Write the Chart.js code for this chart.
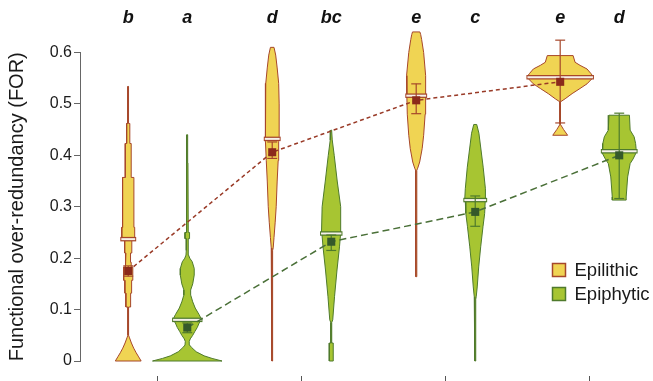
<!DOCTYPE html>
<html><head><meta charset="utf-8">
<script src="https://cdn.jsdelivr.net/npm/chart.js@4/dist/chart.umd.min.js"></script>
<style>html,body{margin:0;padding:0;background:#fff}</style>
</head><body>
<canvas id="c" width="653" height="381"></canvas>
<script>
// ---------- data ----------
const groupPos = [1, 2, 3, 4];
const seriesNames = ['Epilithic', 'Epiphytic'];
const letters = ['b', 'a', 'd', 'bc', 'e', 'c', 'e', 'd'];
const yTickValues = [0, 0.1, 0.2, 0.3, 0.4, 0.5, 0.6];

const epilithicMean = [0.175, 0.406, 0.507, 0.543];
const epilithicLow = [0.165, 0.394, 0.481, 0.463];
const epilithicHigh = [0.185, 0.426, 0.539, 0.624];
const epilithicMedian = [0.237, 0.432, 0.516, 0.552];

const epiphyticMean = [0.065, 0.232, 0.290, 0.400];
const epiphyticLow = [0.055, 0.215, 0.262, 0.316];
const epiphyticHigh = [0.074, 0.245, 0.321, 0.482];
const epiphyticMedian = [0.080, 0.248, 0.313, 0.408];

// violin density profiles: [FOR value, half-width density]
const epilithicViolin1 = [[0,13],[0.008,10.5],[0.016,8],[0.025,5.5],[0.035,3.2],[0.045,1.3],[0.05,0.35],[0.105,0.35],[0.105,2.4],[0.132,2.4],[0.132,3.4],[0.157,3.4],[0.157,4.6],[0.183,4.6],[0.183,3],[0.192,3],[0.192,2.3],[0.21,2.3],[0.21,3.6],[0.236,3.6],[0.239,6.5],[0.26,6.5],[0.26,5.7],[0.357,5.7],[0.357,3],[0.423,3],[0.423,1.6],[0.462,1.6],[0.462,0.5],[0.534,0.3]];
const epilithicViolin2 = [[0,0.4],[0.215,0.4],[0.22,1],[0.24,1.8],[0.27,3],[0.30,4],[0.35,5],[0.39,6],[0.427,6.5],[0.437,7],[0.5,7],[0.54,6.5],[0.57,5],[0.595,3.5],[0.61,1.8]];
const epilithicViolin3 = [[0.164,0.4],[0.371,0.6],[0.375,1.5],[0.387,3.5],[0.413,6],[0.439,7.5],[0.48,9],[0.513,9.3],[0.519,9.5],[0.555,9.7],[0.6,7.5],[0.625,5.5],[0.635,4.5],[0.64,3.7]];
const epilithicViolin4 = [[0.439,7.5],[0.45,3.5],[0.46,0.3],[0.504,0.3],[0.51,5],[0.52,12],[0.53,20],[0.539,27],[0.549,32],[0.555,32.5],[0.559,31],[0.568,27],[0.575,20],[0.581,15],[0.594,13]];

const epiphyticViolin1 = [[0,35],[0.005,25],[0.01,17],[0.018,9],[0.026,4.5],[0.031,2.3],[0.038,2],[0.043,3],[0.05,5.5],[0.057,7.5],[0.065,10],[0.074,12],[0.079,13.8],[0.083,13.8],[0.09,12],[0.103,8],[0.115,5.5],[0.128,3.5],[0.138,3.4],[0.15,5.5],[0.167,7],[0.18,7],[0.193,5],[0.2,2.5],[0.206,1.3],[0.215,1],[0.238,1],[0.238,2.3],[0.25,2.3],[0.25,1],[0.385,0.7],[0.385,0.45],[0.44,0.35]];
const epiphyticViolin2 = [[0,2],[0.035,2],[0.035,0.4],[0.075,0.5],[0.08,1.5],[0.125,3.3],[0.177,5.8],[0.222,8.3],[0.245,9.3],[0.251,9.8],[0.3,9.2],[0.35,6],[0.4,3],[0.43,1],[0.449,0.4]];
const epiphyticViolin3 = [[0,0.4],[0.12,0.5],[0.125,1],[0.144,2],[0.183,3.5],[0.222,5.5],[0.261,7.8],[0.287,9.5],[0.309,10],[0.317,10.5],[0.335,10],[0.377,8],[0.443,3.7],[0.46,1.5]];
const epiphyticViolin4 = [[0.313,7],[0.319,7],[0.358,8.5],[0.384,11],[0.393,14],[0.403,16.5],[0.413,17],[0.423,16.5],[0.436,15],[0.449,11],[0.478,10.3]];

const epilithicViolins = [epilithicViolin1, epilithicViolin2, epilithicViolin3, epilithicViolin4];
const epiphyticViolins = [epiphyticViolin1, epiphyticViolin2, epiphyticViolin3, epiphyticViolin4];

// ---------- style ----------
const X_MIN = 0.46, X_MAX = 4.4;
const DODGE = 0.205;          // side offset of the two series inside a group
const PX = 1 / 145;           // density unit -> x-axis units
const CAP = 5 * PX;
const FONT = "'Liberation Sans', Arial, Helvetica, sans-serif";
const styles = {
  Epilithic: { fill: '#F0D453', border: '#A6472B', mark: '#8B2A1B', dash: '#993A27', dashPat: [4, 3] },
  Epiphytic: { fill: '#A7C532', border: '#4F7A2C', mark: '#35592A', dash: '#4A7038', dashPat: [7, 4] }
};

function widthAt(profile, v) {
  let w = 0;
  profile.forEach(([y, d]) => { if (Math.abs(y - v) < 0.007) w = Math.max(w, d); });
  return w;
}

const datasets = [];
function seg(points, color, width, order, dash) {
  datasets.push({ data: points, showLine: true, borderColor: color, borderWidth: width, pointRadius: 0,
    fill: false, order: order, borderDash: dash || [], clip: false, tension: 0 });
}

function addSeries(name, sign, violins, mean, low, high, median) {
  const st = styles[name];
  const cx = groupPos.map(g => g + sign * DODGE);
  violins.forEach((profile, i) => {
    const right = profile.map(([v, d]) => ({ x: cx[i] + d * PX, y: v }));
    const left = profile.slice().reverse().map(([v, d]) => ({ x: cx[i] - d * PX, y: v }));
    const pts = right.concat(left); pts.push(right[0]);
    datasets.push({ data: pts, showLine: true, fill: 'shape', backgroundColor: st.fill, borderColor: st.border,
      borderWidth: 1, pointRadius: 0, order: 5, clip: false, tension: 0 });
    const w = (widthAt(profile, median[i]) + 1.5) * PX;
    seg([{ x: cx[i] - w, y: median[i] }, { x: cx[i] + w, y: median[i] }], st.border, 4.5, 4);
    seg([{ x: cx[i] - w + PX, y: median[i] }, { x: cx[i] + w - PX, y: median[i] }], '#F6F1EA', 2, 3.5);
    seg([{ x: cx[i], y: low[i] }, { x: cx[i], y: high[i] }], st.border, 1.2, 2);
    seg([{ x: cx[i] - CAP, y: low[i] }, { x: cx[i] + CAP, y: low[i] }], st.border, 1.2, 2);
    seg([{ x: cx[i] - CAP, y: high[i] }, { x: cx[i] + CAP, y: high[i] }], st.border, 1.2, 2);
  });
  seg(cx.map((x, i) => ({ x: x, y: mean[i] })), st.dash, 1.5, 1, st.dashPat);
  datasets.push({ data: cx.map((x, i) => ({ x: x, y: mean[i] })), showLine: false, pointStyle: 'rect',
    pointRadius: 5.7, backgroundColor: st.mark, borderWidth: 0, order: 0, clip: false });
}
addSeries('Epilithic', -1, epilithicViolins, epilithicMean, epilithicLow, epilithicHigh, epilithicMedian);
addSeries('Epiphytic', 1, epiphyticViolins, epiphyticMean, epiphyticLow, epiphyticHigh, epiphyticMedian);

const violinPositions = [];
groupPos.forEach(g => { violinPositions.push(g - DODGE, g + DODGE); });

// let violin fills extend above the top of the value axis (as in the original)
const unclipFill = {
  id: 'unclipFill',
  beforeDatasetsDraw(chart) {
    const ca = chart.chartArea;
    chart._savedArea = ca;
    chart.chartArea = { left: ca.left, right: ca.right, top: ca.top - 50, bottom: ca.bottom,
      width: ca.width, height: ca.height + 50 };
  },
  afterDatasetsDraw(chart) {
    if (chart._savedArea) { chart.chartArea = chart._savedArea; chart._savedArea = null; }
  }
};

// custom legend
const swatchLegend = {
  id: 'swatchLegend',
  afterDraw(chart, args, opts) {
    const ctx = chart.ctx;
    ctx.save();
    seriesNames.forEach((name, i) => {
      const st = styles[name];
      const y = opts.top + i * opts.step;
      ctx.fillStyle = st.fill; ctx.strokeStyle = st.border; ctx.lineWidth = 1.5;
      ctx.fillRect(opts.left, y, opts.box, opts.box);
      ctx.strokeRect(opts.left, y, opts.box, opts.box);
      ctx.fillStyle = '#1a1a1a';
      ctx.font = opts.fontSize + 'px ' + FONT;
      ctx.textBaseline = 'middle';
      ctx.fillText(name, opts.left + opts.box + 9, y + opts.box / 2 + 0.5);
    });
    ctx.restore();
  }
};

new Chart(document.getElementById('c'), {
  type: 'scatter',
  data: { datasets },
  plugins: [unclipFill, swatchLegend],
  options: {
    responsive: false, animation: false, events: [],
    layout: { padding: { left: 0, right: 2, top: 0, bottom: 0 } },
    plugins: {
      legend: { display: false }, tooltip: { enabled: false },
      swatchLegend: { left: 552.5, top: 263.5, step: 24, box: 13, fontSize: 18.5 }
    },
    scales: {
      x: {
        type: 'linear', position: 'bottom', min: X_MIN, max: X_MAX,
        afterBuildTicks: a => { a.ticks = groupPos.map(v => ({ value: v })); },
        ticks: { display: false },
        grid: { drawOnChartArea: false, drawTicks: true, tickLength: 20, tickColor: '#555', tickWidth: 1, tickBorderDash: [0, 15, 6, 100] },
        border: { display: false }
      },
      xTop: {
        type: 'linear', position: 'top', min: X_MIN, max: X_MAX,
        afterBuildTicks: a => { a.ticks = violinPositions.map(v => ({ value: v })); },
        afterFit: a => { a.height = 52.5; },
        ticks: { callback: (v, i) => letters[i], autoSkip: false, maxRotation: 0, padding: 24, color: '#111',
          font: { family: FONT, size: 18, weight: 'bold', style: 'italic' } },
        grid: { display: false, drawTicks: false },
        border: { display: false }
      },
      y: {
        min: 0, max: 0.6,
        afterBuildTicks: a => { a.ticks = yTickValues.map(v => ({ value: v })); },
        afterFit: a => { a.width = 80; },
        ticks: { callback: v => (v === 0 ? '0' : v.toFixed(1)), padding: 2, color: '#1a1a1a',
          font: { family: FONT, size: 16 } },
        grid: { drawOnChartArea: false, drawTicks: true, tickLength: 6, tickColor: '#666' },
        border: { display: true, color: '#666', width: 1 },
        title: { display: true, text: 'Functional over-redundancy (FOR)', color: '#1a1a1a',
          font: { family: FONT, size: 20 }, padding: { top: 5, bottom: 0 } }
      }
    }
  }
});
</script>
</body></html>
